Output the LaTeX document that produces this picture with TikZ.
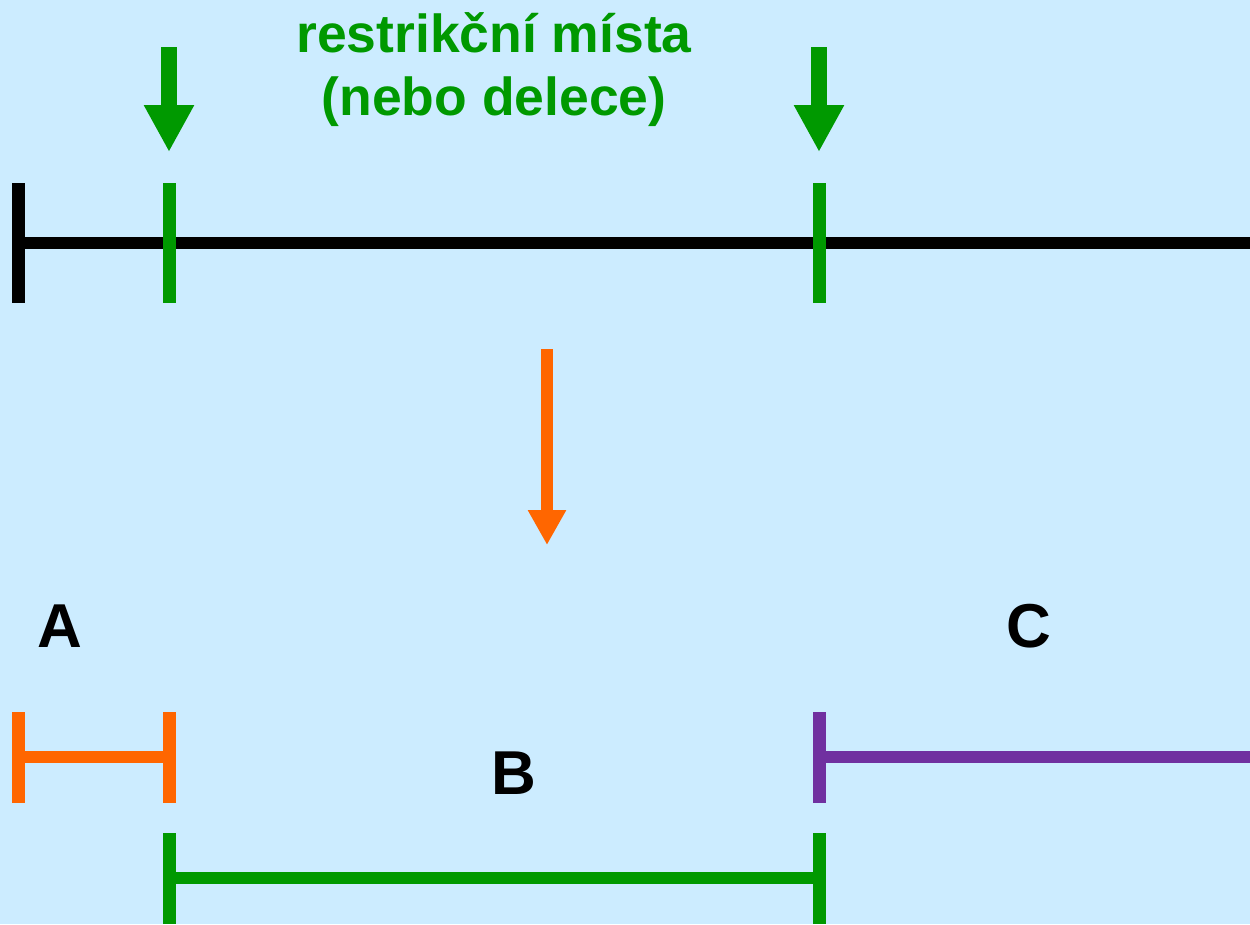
\documentclass[tikz,border=0pt]{standalone}
\usepackage{fontspec}
\setmainfont{Liberation Sans}
\usetikzlibrary{arrows.meta}
\definecolor{bgblue}{HTML}{CCECFF}
\definecolor{siteGreen}{HTML}{009900}
\definecolor{cutOrange}{HTML}{FF6600}
\definecolor{fragPurple}{HTML}{7030A0}
\tikzset{
  seg/.style={line width=12.5pt},
  tick/.style={line width=13pt},
  sitearrow/.style={line width=16pt, siteGreen, -{Triangle[length=47pt,width=47pt]}},
  cutarrow/.style={line width=12pt, cutOrange, -{Triangle[length=35pt,width=36pt]}},
  captext/.style={siteGreen, font=\bfseries\fontsize{53.5}{60}\selectfont, anchor=base, inner sep=0pt},
  fraglabel/.style={font=\bfseries\fontsize{62}{62}\selectfont, anchor=base, inner sep=0pt}
}
\begin{document}
\begin{tikzpicture}[x=1pt,y=-1pt]
  \useasboundingbox[fill=bgblue] (0,0) rectangle (1250,924);

  % caption above the restriction sites
  \node[captext] (caption1) at (494,52) {restrikční místa};
  \node[captext] (caption2) at (494,115) {(nebo delece)};

  % intact molecule
  \coordinate (m0) at (18,243);
  \coordinate (mEnd) at (1250,243);
  \coordinate (s1top) at (169,183); \coordinate (s1bot) at (169,303);
  \coordinate (s2top) at (819,183); \coordinate (s2bot) at (819,303);
  \coordinate (e0top) at (18,183);  \coordinate (e0bot) at (18,303);
  \draw[seg, black] (m0) -- (mEnd);
  \draw[tick, black] (e0top) -- (e0bot);
  \draw[tick, siteGreen] (s1top) -- (s1bot);
  \draw[tick, siteGreen] (s2top) -- (s2bot);

  % arrows pointing at the sites
  \coordinate (a1s) at (169,47); \coordinate (a1e) at (169,152);
  \coordinate (a2s) at (819,47); \coordinate (a2e) at (819,152);
  \draw[sitearrow] (a1s) -- (a1e);
  \draw[sitearrow] (a2s) -- (a2e);

  % cutting step
  \coordinate (cs) at (547,349); \coordinate (ce) at (547,545);
  \draw[cutarrow] (cs) -- (ce);

  % fragment A
  \coordinate (aL) at (18,757); \coordinate (aR) at (169,757);
  \coordinate (aLt) at (18,712); \coordinate (aLb) at (18,803);
  \coordinate (aRt) at (169,712); \coordinate (aRb) at (169,803);
  \draw[seg, cutOrange] (aL) -- (aR);
  \draw[tick, cutOrange] (aLt) -- (aLb);
  \draw[tick, cutOrange] (aRt) -- (aRb);
  \node[fraglabel] (labA) at (60,647) {A};

  % fragment B
  \coordinate (bL) at (169,878); \coordinate (bR) at (819,878);
  \coordinate (bLt) at (169,833); \coordinate (bLb) at (169,924);
  \coordinate (bRt) at (819,833); \coordinate (bRb) at (819,924);
  \draw[seg, siteGreen] (bL) -- (bR);
  \draw[tick, siteGreen] (bLt) -- (bLb);
  \draw[tick, siteGreen] (bRt) -- (bRb);
  \node[fraglabel] (labB) at (514,794) {B};

  % fragment C
  \coordinate (cL) at (819,757); \coordinate (cR) at (1250,757);
  \coordinate (cLt) at (819,712); \coordinate (cLb) at (819,803);
  \draw[seg, fragPurple] (cL) -- (cR);
  \draw[tick, fragPurple] (cLt) -- (cLb);
  \node[fraglabel] (labC) at (1029,647) {C};
\end{tikzpicture}
\end{document}
